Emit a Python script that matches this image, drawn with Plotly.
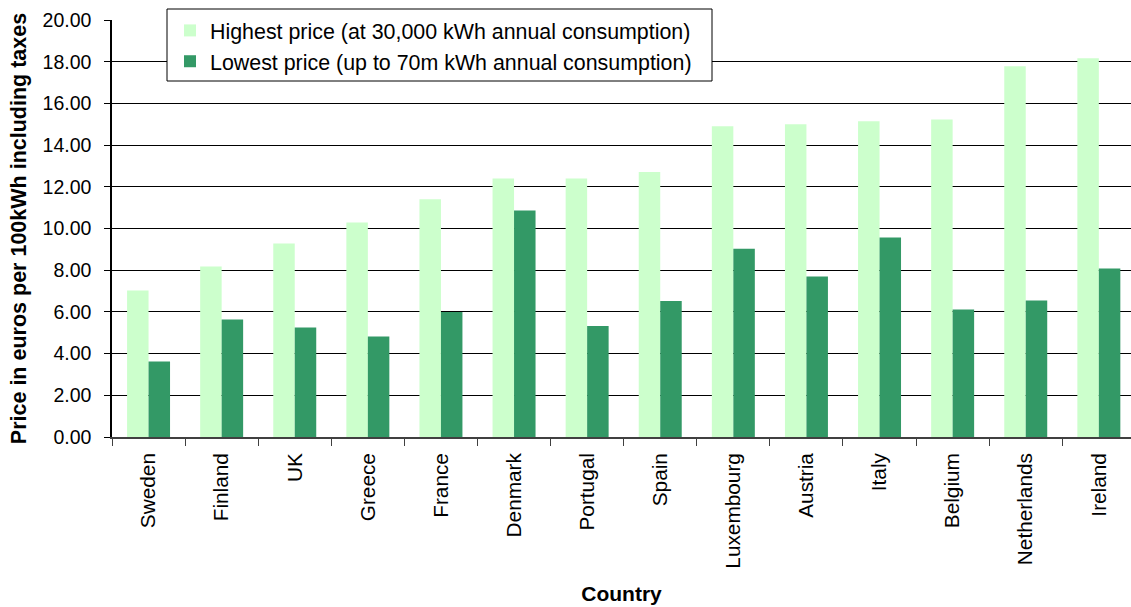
import plotly.graph_objects as go

countries = ["Sweden", "Finland", "UK", "Greece", "France", "Denmark", "Portugal",
             "Spain", "Luxembourg", "Austria", "Italy", "Belgium", "Netherlands", "Ireland"]
highest = [7.03, 8.18, 9.28, 10.29, 11.40, 12.40, 12.40, 12.71, 14.90, 15.00, 15.14, 15.23, 17.78, 18.17]
lowest = [3.62, 5.64, 5.25, 4.82, 6.00, 10.86, 5.32, 6.52, 9.03, 7.70, 9.57, 6.12, 6.55, 8.08]

name_high = "Highest price (at 30,000 kWh annual consumption)"
name_low = "Lowest price (up to 70m kWh annual consumption)"

FONT = "Liberation Sans, Arial, sans-serif"

fig = go.Figure()
fig.add_trace(go.Bar(x=countries, y=highest, name=name_high, marker_color="#CCFFCC",
                     marker_line_width=0, legendgroup="a"))
fig.add_trace(go.Bar(x=countries, y=lowest, name=name_low, marker_color="#339966",
                     marker_line_width=0, legendgroup="b"))

W, H = 1131, 607
L, R, T, B = 112, 0, 20, 170
plot_w = W - L - R
plot_h = H - T - B


def px_x(p):
    return (p - L) / plot_w


def px_y(p):
    return (H - B - p) / plot_h


# legend frame (drawn as a shape so that its size matches the reference)
fig.add_shape(type="rect", xref="paper", yref="paper",
              x0=px_x(167), x1=px_x(712), y0=px_y(81), y1=px_y(9),
              fillcolor="white", line=dict(color="black", width=1), layer="above")

fig.update_layout(
    width=W, height=H,
    margin=dict(l=L, r=R, t=T, b=B, pad=0, autoexpand=False),
    paper_bgcolor="white", plot_bgcolor="white",
    barmode="group", bargap=0.412, bargroupgap=0,
    font=dict(family=FONT, color="black", size=20),
    legend=dict(
        x=px_x(170), y=px_y(10),
        xanchor="left", yanchor="top",
        bgcolor="rgba(0,0,0,0)", borderwidth=0,
        font=dict(family=FONT, size=21.4, color="black"),
        tracegroupgap=7,
        traceorder="normal",
    ),
    showlegend=True,
)

fig.update_xaxes(
    range=[-0.5, 13.44],
    showline=True, linecolor="#404040", linewidth=1.5,
    ticks="outside", ticklen=7, tickcolor="#404040", tickwidth=1,
    tickson="boundaries",
    tickangle=-90,
    tickfont=dict(family=FONT, size=20.8),
    ticklabelstandoff=6,
    showgrid=False,
    title=dict(text="<b>Country</b>", font=dict(family=FONT, size=21), standoff=19),
    fixedrange=True,
)
fig.update_yaxes(
    range=[0, 20], dtick=2, tickformat=".2f",
    showline=True, linecolor="black", linewidth=1.5,
    ticks="outside", ticklen=6, tickcolor="black", tickwidth=1,
    showgrid=True, gridcolor="black", gridwidth=1,
    zeroline=False,
    tickfont=dict(family=FONT, size=19.5),
    ticklabelstandoff=9,
    title=dict(text="<b>Price in euros per 100kWh including taxes</b>",
               font=dict(family=FONT, size=21.5), standoff=10),
    fixedrange=True,
)

fig.write_html("out.html", config={"displayModeBar": False},
               post_script="document.body.style.margin='0';")
